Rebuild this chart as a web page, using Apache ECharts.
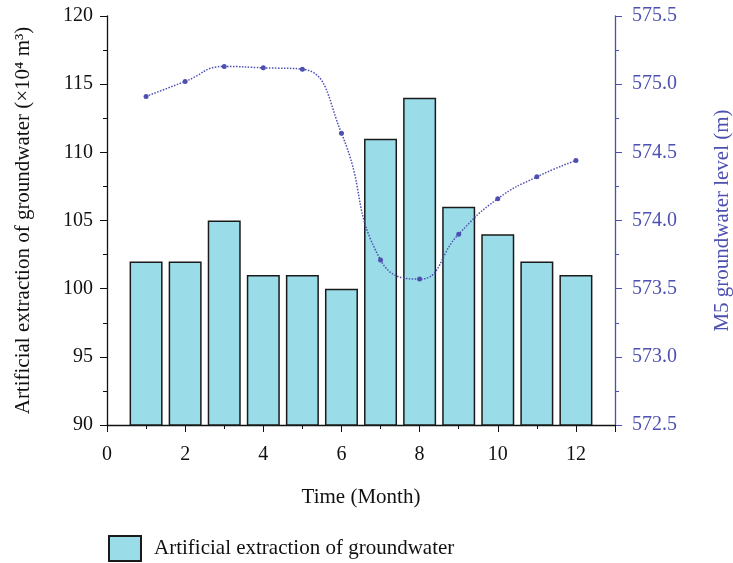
<!DOCTYPE html>
<html><head><meta charset="utf-8">
<script src="https://cdn.jsdelivr.net/npm/echarts@6/dist/echarts.min.js"></script>
<style>html,body{margin:0;padding:0;background:#fff}#c{width:733px;height:563px}</style>
</head><body><div id="c"></div>
<script>
var months = [1,2,3,4,5,6,7,8,9,10,11,12];
var extraction = [102,102,105,101,101,100,111,114,106,104,102,101];
var level = [574.91,575.02,575.13,575.12,575.11,574.64,573.71,573.57,573.90,574.16,574.32,574.44];
var xTicks = [0,2,4,6,8,10,12];

var FONT = '"Liberation Serif", "DejaVu Serif", serif';
var BLUE = '#4d50b0';
var chart = echarts.init(document.getElementById('c'), null, {renderer:'canvas'});
chart.setOption({
  animation: false,
  textStyle: {fontFamily: FONT},
  grid: {left:107, right:118, top:16, bottom:138, containLabel:false, outerBoundsMode:'none'},
  legend: {
    left: 108, top: 535, padding: 0, itemWidth: 32, itemHeight: 25, itemGap: 10,
    icon: 'rect',
    data: ['Artificial extraction of groundwater'],
    textStyle: {fontFamily: FONT, fontSize: 21, color:'#111', padding:[0,0,0,8]}
  },
  xAxis: {
    type:'value', min:0, max:13, interval:2,
    name:'Time (Month)', nameLocation:'middle', nameGap:62,
    nameTextStyle:{fontFamily:FONT, fontSize:21, color:'#111'},
    axisLine:{lineStyle:{color:'#111', width:1.3}},
    axisTick:{show:true, inside:false, length:7, lineStyle:{color:'#111'}},
    minorTick:{show:true, splitNumber:2, length:4, lineStyle:{color:'#111'}},
    splitLine:{show:false},
    axisLabel:{fontFamily:FONT, fontSize:20, color:'#111', margin:20, showMaxLabel:false,
      formatter:function(v){return xTicks.indexOf(v) >= 0 ? String(v) : '';}}
  },
  yAxis: [{
    type:'value', min:90, max:120, interval:5, position:'left',
    name:'Artificial extraction of groundwater (×10⁴ m³)', nameLocation:'middle', nameGap:73,
    nameTextStyle:{fontFamily:FONT, fontSize:21, color:'#111'},
    axisLine:{show:true, lineStyle:{color:'#111', width:1.3}},
    axisTick:{show:true, length:7, lineStyle:{color:'#111'}},
    minorTick:{show:true, splitNumber:2, length:4, lineStyle:{color:'#111'}},
    splitLine:{show:false},
    axisLabel:{fontFamily:FONT, fontSize:20, color:'#111', margin:14}
  },{
    type:'value', min:572.5, max:575.5, interval:0.5, position:'right',
    name:'M5 groundwater level (m)', nameLocation:'middle', nameGap:97, nameRotate:90,
    nameTextStyle:{fontFamily:FONT, fontSize:21, color:BLUE},
    axisLine:{show:true, lineStyle:{color:BLUE, width:1.3}},
    axisTick:{show:true, length:7, lineStyle:{color:BLUE}},
    minorTick:{show:true, splitNumber:2, length:4, lineStyle:{color:BLUE}},
    splitLine:{show:false},
    axisLabel:{fontFamily:FONT, fontSize:20, color:BLUE, margin:17,
      formatter:function(v){return v.toFixed(1);}}
  }],
  series: [{
    name:'Artificial extraction of groundwater',
    type:'bar', yAxisIndex:0, barWidth:33,
    data: months.map(function(m,i){return [m, extraction[i]];}),
    itemStyle:{color:'#9adce8', borderColor:'#1a1a1a', borderWidth:1.5}
  },{
    name:'M5 groundwater level',
    type:'line', yAxisIndex:1, smooth:0.5,
    data: months.map(function(m,i){return [m, level[i]];}),
    symbol:'circle', symbolSize:5,
    itemStyle:{color:BLUE},
    lineStyle:{color:BLUE, width:1.5, type:'dotted'}
  }]
});
</script></body></html>
